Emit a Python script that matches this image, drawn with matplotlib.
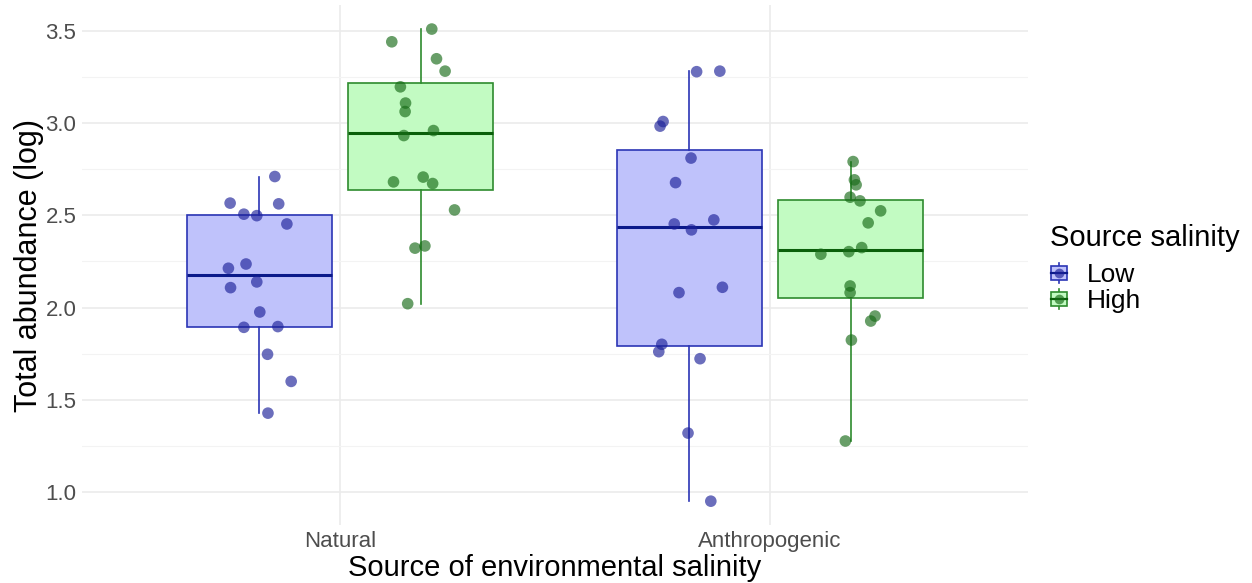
import numpy as np
import matplotlib
matplotlib.use("Agg")
import matplotlib.pyplot as plt
from matplotlib.patches import Rectangle
from matplotlib.lines import Line2D
from matplotlib.legend_handler import HandlerBase

plt.rcParams['font.family'] = ['Liberation Sans', 'DejaVu Sans']

categories = ["Natural", "Anthropogenic"]
groups = ["Low", "High"]

# values (log total abundance)
natural_low = [2.71, 2.566, 2.562, 2.506, 2.498, 2.453, 2.236, 2.213, 2.139, 2.108,
               1.976, 1.893, 1.897, 1.747, 1.600, 1.428]
natural_low_jit = [0.036, -0.068, 0.045, -0.036, -0.006, 0.064, -0.031, -0.072, -0.006, -0.067,
                   0.001, -0.036, 0.043, 0.019, 0.074, 0.020]

natural_high = [3.509, 3.440, 3.348, 3.281, 3.196, 3.108, 3.062, 2.959, 2.932, 2.681,
                2.707, 2.672, 2.529, 2.322, 2.334, 2.021]
natural_high_jit = [0.026, -0.067, 0.037, 0.057, -0.047, -0.035, -0.036, 0.030, -0.039, -0.063,
                    0.006, 0.028, 0.079, -0.013, 0.010, -0.030]

anthro_low = [3.278, 3.281, 3.008, 2.983, 2.810, 2.677, 2.453, 2.475, 2.421, 2.081,
              2.110, 1.801, 1.761, 1.723, 1.320, 0.951]
anthro_low_jit = [0.017, 0.071, -0.061, -0.068, 0.004, -0.032, -0.035, 0.057, 0.005, -0.024,
                  0.077, -0.064, -0.071, 0.025, -0.003, 0.050]

anthro_high = [2.791, 2.692, 2.665, 2.598, 2.578, 2.524, 2.459, 2.289, 2.303, 2.325,
               2.117, 2.081, 1.954, 1.927, 1.824, 1.277]
anthro_high_jit = [0.006, 0.009, 0.013, -0.001, 0.022, 0.070, 0.041, -0.069, -0.004, 0.026,
                   -0.001, -0.001, 0.057, 0.047, 0.002, -0.012]

y_ticks = [1.0, 1.5, 2.0, 2.5, 3.0, 3.5]

styles = {
    "Low": dict(fill="#bfc2fb", edge="#2b35b5", median="#0b1a8a", point="#1c2199"),
    "High": dict(fill="#c2fbc2", edge="#2e8b2e", median="#0a5f0a", point="#176b17"),
}

series = [
    (0, "Low", natural_low, natural_low_jit),
    (0, "High", natural_high, natural_high_jit),
    (1, "Low", anthro_low, anthro_low_jit),
    (1, "High", anthro_high, anthro_high_jit),
]

dodge = 0.1875
box_w = 0.3375

fig = plt.figure(figsize=(12.52, 5.83), dpi=100)
ax = fig.add_axes([0.0655, 0.0995, 0.7555, 0.8915])

for ci, grp, vals, jit in series:
    st = styles[grp]
    pos = ci + (-dodge if grp == "Low" else dodge)
    ax.boxplot([vals], positions=[pos], widths=box_w, patch_artist=True,
               showfliers=False, showcaps=False, whis=1.5,
               boxprops=dict(facecolor=st["fill"], edgecolor=st["edge"], linewidth=1.2),
               whiskerprops=dict(color=st["edge"], linewidth=1.2),
               medianprops=dict(color=st["median"], linewidth=2.2),
               zorder=2)
    ax.scatter(pos + np.array(jit), vals, s=70, color=st["point"], alpha=0.65,
               edgecolors="none", zorder=3)

ax.set_xlim(-0.6, 1.6)
ax.set_ylim(0.822, 3.638)
ax.set_xticks([0, 1])
ax.set_xticklabels(categories)
ax.set_yticks(y_ticks)
ax.set_yticklabels([f"{t:.1f}" for t in y_ticks])
ax.set_yticks(np.arange(1.25, 3.5, 0.5), minor=True)

ax.grid(True, which="major", color="#ebebeb", linewidth=1.2)
ax.grid(True, which="minor", axis="y", color="#f3f3f3", linewidth=0.8)
ax.set_axisbelow(True)
for sp in ax.spines.values():
    sp.set_visible(False)
ax.tick_params(axis="both", which="both", length=0, labelsize=16, labelcolor="#4d4d4d", pad=4)

ax.set_xlabel("Source of environmental salinity", fontsize=21, labelpad=2)
ax.set_ylabel("Total abundance (log)", fontsize=22, labelpad=1)


class BoxKeyHandler(HandlerBase):
    def __init__(self, st):
        super().__init__()
        self.st = st

    def create_artists(self, legend, orig_handle, xdescent, ydescent, width, height, fontsize, trans):
        st = self.st
        cx = width / 2 - xdescent
        cy = height / 2 - ydescent
        bw = width * 0.9
        bh = height * 0.7
        whisk = Line2D([cx, cx], [cy - height * 0.5, cy + height * 0.5], color=st["edge"], lw=1.2, transform=trans)
        rect = Rectangle((cx - bw / 2, cy - bh / 2), bw, bh, facecolor=st["fill"], edgecolor=st["edge"], lw=1.2, transform=trans)
        med = Line2D([cx - bw / 2, cx + bw / 2], [cy, cy], color=st["median"], lw=1.6, transform=trans)
        dot = Line2D([cx], [cy], marker="o", markersize=7, color=st["point"], alpha=0.65, markeredgewidth=0, linestyle="none", transform=trans)
        return [whisk, rect, med, dot]


h_low = Rectangle((0, 0), 1, 1)
h_high = Rectangle((0, 0), 1, 1)
leg = fig.legend([h_low, h_high], groups, title="Source salinity",
                 handler_map={h_low: BoxKeyHandler(styles["Low"]), h_high: BoxKeyHandler(styles["High"])},
                 loc="upper left", bbox_to_anchor=(0.830, 0.634), frameon=False,
                 fontsize=19, title_fontsize=21, handlelength=0.7, handleheight=0.8,
                 handletextpad=0.7, labelspacing=0.05, borderaxespad=0)
leg._legend_box.align = "left"
leg._legend_box.sep = 8

fig.savefig("out.png", dpi=100)
